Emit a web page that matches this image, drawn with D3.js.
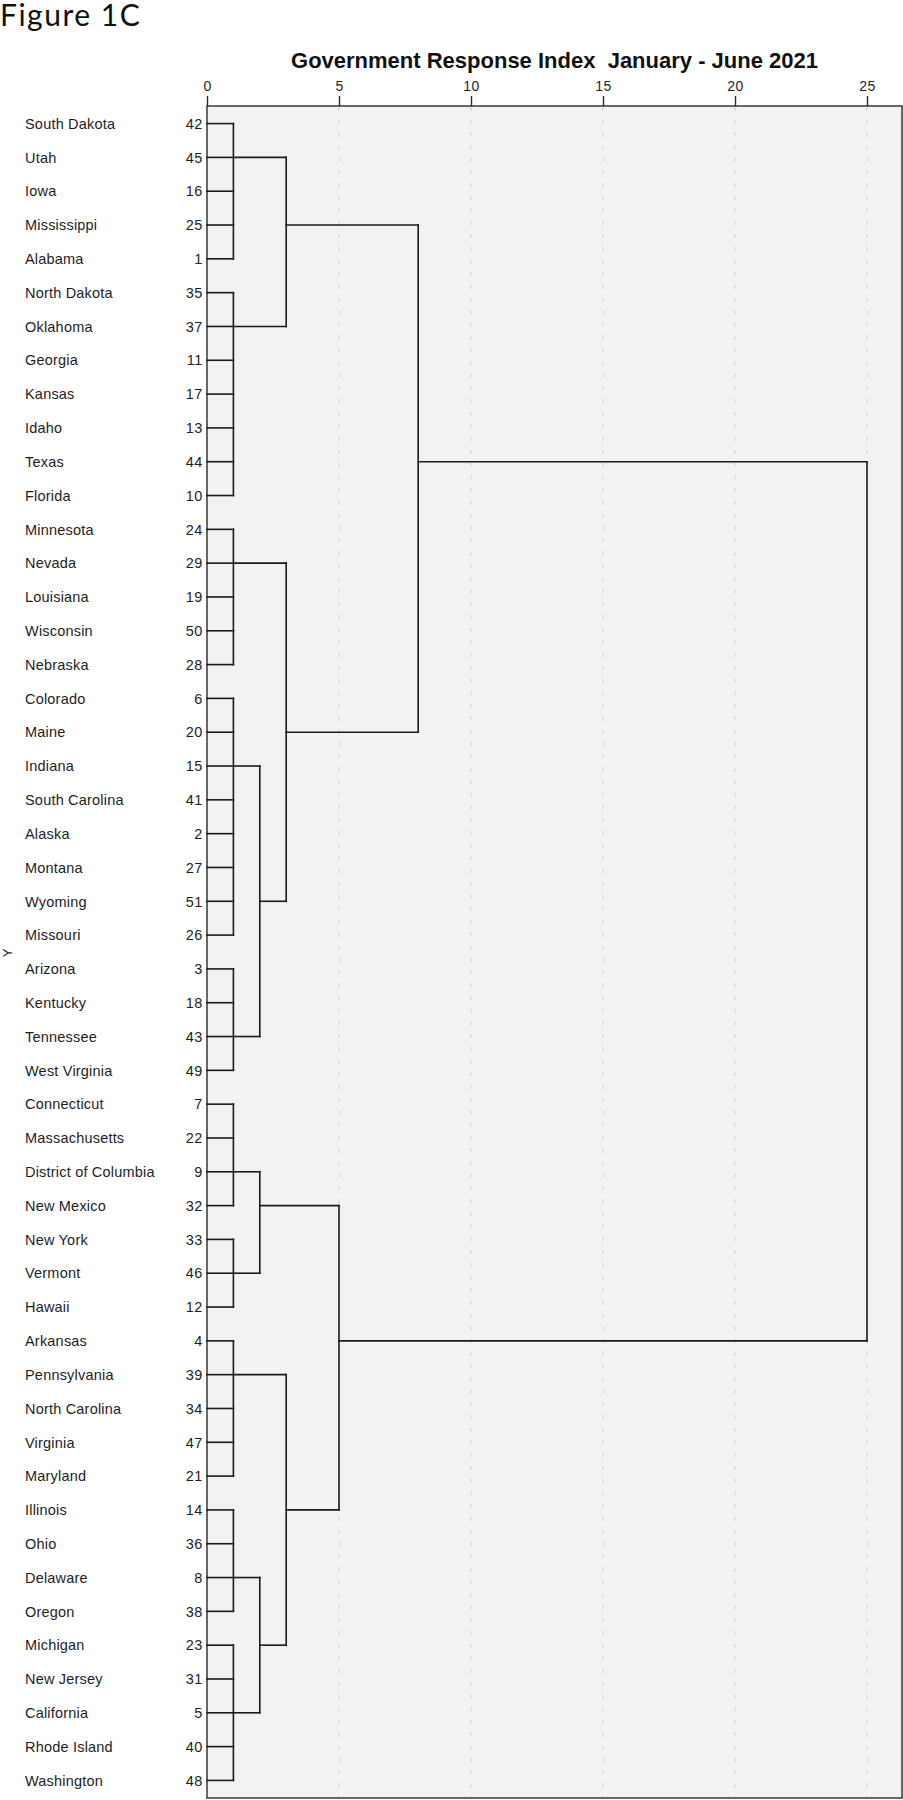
<!DOCTYPE html>
<html>
<head>
<meta charset="utf-8">
<script src="https://cdn.jsdelivr.net/npm/d3@7"></script>
<style>
body { margin: 0; background: #fff; }
text { font-family: "Liberation Sans", Arial, sans-serif; fill: #1e1e1e; }
</style>
</head>
<body>
<div id="dendro"></div>
<script>
// leaves, top to bottom, with their case numbers
var states = ["South Dakota", "Utah", "Iowa", "Mississippi", "Alabama", "North Dakota", "Oklahoma",
  "Georgia", "Kansas", "Idaho", "Texas", "Florida", "Minnesota", "Nevada", "Louisiana", "Wisconsin",
  "Nebraska", "Colorado", "Maine", "Indiana", "South Carolina", "Alaska", "Montana", "Wyoming",
  "Missouri", "Arizona", "Kentucky", "Tennessee", "West Virginia", "Connecticut", "Massachusetts",
  "District of Columbia", "New Mexico", "New York", "Vermont", "Hawaii", "Arkansas", "Pennsylvania",
  "North Carolina", "Virginia", "Maryland", "Illinois", "Ohio", "Delaware", "Oregon", "Michigan",
  "New Jersey", "California", "Rhode Island", "Washington"];
var caseNums = [42, 45, 16, 25, 1, 35, 37, 11, 17, 13, 44, 10, 24, 29, 19, 50, 28, 6, 20, 15, 41, 2,
  27, 51, 26, 3, 18, 43, 49, 7, 22, 9, 32, 33, 46, 12, 4, 39, 34, 47, 21, 14, 36, 8, 38, 23, 31, 5, 40, 48];

var xTicks = [0, 5, 10, 15, 20, 25];

// first level clusters (all joined near rescaled distance 1)
var groupIds   = ["g1", "g2", "g3", "g4", "g5", "g6", "g7", "g8", "g9", "g10"];
var groupFrom  = ["South Dakota", "North Dakota", "Minnesota", "Colorado", "Arizona", "Connecticut", "New York", "Arkansas", "Illinois", "Michigan"];
var groupTo    = ["Alabama", "Florida", "Nebraska", "Missouri", "West Virginia", "New Mexico", "Hawaii", "Maryland", "Oregon", "Washington"];
var groupJoin  = ["Utah", "Oklahoma", "Nevada", "Indiana", "Tennessee", "District of Columbia", "Vermont", "Pennsylvania", "Delaware", "California"];
var groupDist  = [1, 1, 1, 1, 1, 1, 1, 1, 1, 1];

// higher merges
var mergeIds   = ["n1", "n2", "n3", "n4", "n5", "n6", "n7", "n8", "n9"];
var mergeLeft  = ["g4", "g3", "g1", "n3", "g6", "g9", "g8", "n5", "n4"];
var mergeRight = ["g5", "n1", "g2", "n2", "g7", "g10", "n6", "n7", "n8"];
var mergeDist  = [2, 3, 3, 8, 2, 2, 3, 5, 25];

var W = 903, H = 1800;
var plot = {left: 207, right: 902, top: 106, bottom: 1798};
var labelFont = "'Liberation Sans', Arial, sans-serif";

var svg = d3.select("#dendro")
  .append("svg")
    .attr("width", W)
    .attr("height", H);

svg.append("text")
  .attr("x", 0)
  .attr("y", 26)
  .style("font-family", "Lato, 'Noto Sans', sans-serif")
  .style("font-size", "30px")
  .style("letter-spacing", "1.5px")
  .style("fill", "#111")
  .text("Figure 1C");

svg.append("text")
  .attr("x", (plot.left + plot.right) / 2)
  .attr("y", 68)
  .attr("text-anchor", "middle")
  .style("font-family", labelFont)
  .style("font-size", "22px")
  .style("font-weight", "bold")
  .style("white-space", "pre")
  .style("fill", "#111")
  .text("Government Response Index  January - June 2021");

var x = d3.scaleLinear()
  .domain([0, 25])
  .range([plot.left, 867]);

var y = d3.scalePoint()
  .domain(states)
  .range([plot.top, plot.bottom])
  .padding(0.52);

// plot background + frame
svg.append("rect")
  .attr("x", plot.left)
  .attr("y", plot.top)
  .attr("width", plot.right - plot.left)
  .attr("height", plot.bottom - plot.top)
  .attr("fill", "#f2f2f2")
  .attr("stroke", "#2a2a2a")
  .attr("stroke-width", 1.4);

// dashed grid
svg.append("g")
  .selectAll("line")
  .data(xTicks.slice(1))
  .enter().append("line")
    .attr("x1", function(d) { return x(d); })
    .attr("x2", function(d) { return x(d); })
    .attr("y1", plot.top + 1)
    .attr("y2", plot.bottom - 1)
    .attr("stroke", "#d4d4d4")
    .attr("stroke-width", 1.2)
    .attr("stroke-dasharray", "4,8.7");

// top axis
var xAxis = svg.append("g")
  .attr("transform", "translate(0," + plot.top + ")")
  .call(d3.axisTop(x).tickValues(xTicks).tickSize(10).tickSizeOuter(0).tickPadding(5));
xAxis.select(".domain").remove();
xAxis.selectAll(".tick line").attr("stroke", "#2a2a2a").attr("stroke-width", 1.4);
xAxis.selectAll(".tick text")
  .style("font-family", labelFont)
  .style("font-size", "14px")
  .style("letter-spacing", "0.4px")
  .attr("fill", "#1e1e1e");

// row labels
var rows = svg.append("g");
rows.selectAll(".name")
  .data(states)
  .enter().append("text")
    .attr("class", "name")
    .attr("x", 25)
    .attr("y", function(d) { return y(d); })
    .attr("dy", "0.36em")
    .style("font-family", labelFont)
    .style("font-size", "14.5px")
    .style("letter-spacing", "0.2px")
    .text(function(d) { return d; });
rows.selectAll(".num")
  .data(states)
  .enter().append("text")
    .attr("class", "num")
    .attr("x", 203)
    .attr("y", function(d) { return y(d); })
    .attr("dy", "0.36em")
    .attr("text-anchor", "end")
    .style("font-family", labelFont)
    .style("font-size", "14.5px")
    .style("letter-spacing", "0.6px")
    .text(function(d, i) { return caseNums[i]; });

svg.append("text")
  .attr("transform", "translate(12,953) rotate(-90)")
  .attr("text-anchor", "middle")
  .style("font-family", labelFont)
  .style("font-size", "13px")
  .text("Y");

// build nodes: row index of the connector and distance
var nodes = {};
groupIds.forEach(function(id, i) {
  nodes[id] = {
    row: states.indexOf(groupJoin[i]),
    dist: groupDist[i],
    lo: states.indexOf(groupFrom[i]),
    hi: states.indexOf(groupTo[i])
  };
});
mergeIds.forEach(function(id, i) {
  var a = nodes[mergeLeft[i]], b = nodes[mergeRight[i]];
  nodes[id] = {
    row: Math.floor((a.row + b.row) / 2),
    dist: mergeDist[i],
    lo: Math.min(a.row, b.row),
    hi: Math.max(a.row, b.row)
  };
});

var segs = [];
// leaves to first level clusters
groupIds.forEach(function(id) {
  var g = nodes[id];
  for (var r = g.lo; r <= g.hi; r++) {
    segs.push({x1: 0, x2: g.dist, r1: r, r2: r});
  }
  segs.push({x1: g.dist, x2: g.dist, r1: g.lo, r2: g.hi});
});
mergeIds.forEach(function(id, i) {
  var m = nodes[id];
  [mergeLeft[i], mergeRight[i]].forEach(function(c) {
    segs.push({x1: nodes[c].dist, x2: m.dist, r1: nodes[c].row, r2: nodes[c].row});
  });
  segs.push({x1: m.dist, x2: m.dist, r1: m.lo, r2: m.hi});
});

svg.append("g")
  .selectAll("line")
  .data(segs)
  .enter().append("line")
    .attr("x1", function(d) { return x(d.x1); })
    .attr("x2", function(d) { return x(d.x2); })
    .attr("y1", function(d) { return y(states[d.r1]); })
    .attr("y2", function(d) { return y(states[d.r2]); })
    .attr("stroke", "#1a1a1a")
    .attr("stroke-width", 1.6)
    .attr("stroke-linecap", "square");
</script>
</body>
</html>
